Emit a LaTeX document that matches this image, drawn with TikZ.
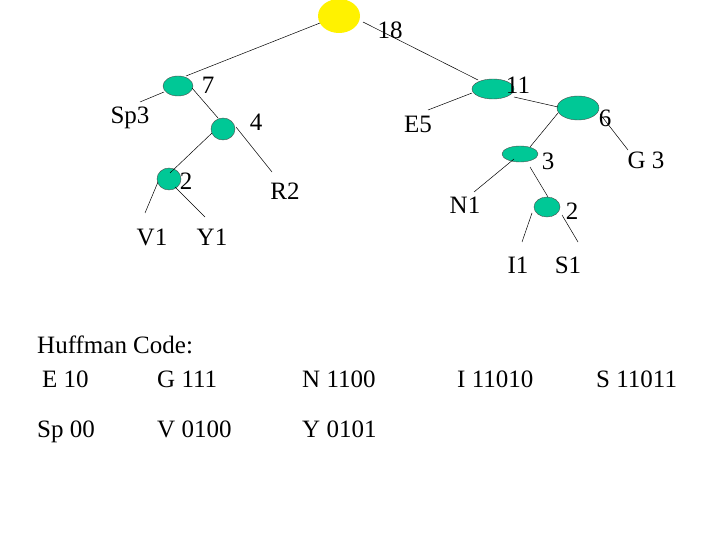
\documentclass[tikz,border=0pt]{standalone}
\usepackage{fontspec}
\setmainfont{Liberation Serif}
\usetikzlibrary{shapes.geometric}
\begin{document}
\begin{tikzpicture}[x=1pt,y=-1pt,
  g/.style={ellipse,draw=black!70,fill={rgb,255:red,0;green,200;blue,150},inner sep=0,minimum width=#1},
  t/.style={font=\fontsize{25}{28}\selectfont,inner sep=0},
  l/.style={anchor=base west,font=\fontsize{25}{28}\selectfont,inner sep=0},
  e/.style={black,line width=0.5pt}]
\useasboundingbox (0,0) rectangle (720,540);
\node[ellipse,fill=yellow,minimum width=42,minimum height=34,inner sep=0] (r) at (339,16) {};
\node[g=30,minimum height=20] (n7) at (178,86) {};
\node[g=24,minimum height=22] (n4) at (223,129) {};
\node[g=24,minimum height=22] (n2) at (169,179) {};
\node[g=42,minimum height=20] (n11) at (493,89) {};
\node[g=42,minimum height=24] (n6) at (578,108) {};
\node[g=36,minimum height=16] (n3) at (520,154) {};
\node[g=26,minimum height=20] (m2) at (547,207) {};
\node[t] at (390,30) {18};
\node[t] at (208,85) {7};
\node[t] at (256,122) {4};
\node[t] at (186,181) {2};
\node[t] at (518,85) {11};
\node[t] at (605,118) {6};
\node[t] at (548,161) {3};
\node[t] at (572,211) {2};
\node[t] (sp) at (130,118) {Sp3};
\node[t] (r2) at (285,191) {R2};
\node[t] (v1) at (152,237) {V1};
\node[t] (y1) at (212,237) {Y1};
\node[t] (e5) at (418,124) {E5};
\node[t] (g3) at (646,160) {G 3};
\node[t] (n1) at (465,205) {N1};
\node[t] (i1) at (518,265) {I1};
\node[t] (s1) at (568,265) {S1};
\draw[e] (320,23) -- (186,76);
\draw[e] (363,22) -- (478,80);
\draw[e] (140,102) -- (164,92);
\draw[e] (192,88) -- (218,118);
\draw[e] (212,133) -- (170,173);
\draw[e] (236,127) -- (272,172);
\draw[e] (158,182) -- (145,213);
\draw[e] (175,187) -- (205,217);
\draw[e] (472,93) -- (428,110);
\draw[e] (514,97) -- (558,107);
\draw[e] (600,114) -- (628,150);
\draw[e] (558,113) -- (530,147);
\draw[e] (514,159) -- (474,192);
\draw[e] (530,167) -- (548,197);
\draw[e] (532,213) -- (522,242);
\draw[e] (562,215) -- (578,242);
\node[l] at (37,353) {Huffman Code:};
\node[l] at (42,387) {E 10};
\node[l] at (157,387) {G 111};
\node[l] at (302,387) {N 1100};
\node[l] at (457,387) {I 11010};
\node[l] at (596,387) {S 11011};
\node[l] at (37,437) {Sp 00};
\node[l] at (157,437) {V 0100};
\node[l] at (302,437) {Y 0101};
\end{tikzpicture}
\end{document}
